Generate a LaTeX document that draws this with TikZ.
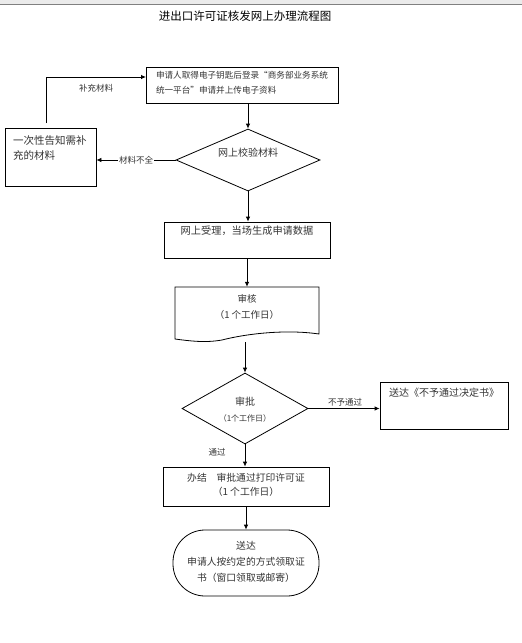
\documentclass[tikz,border=0pt]{standalone}
\usepackage{fontspec}
\setmainfont{Noto Sans CJK SC}
\usetikzlibrary{shapes.geometric,arrows.meta}
\tikzset{
  boxshape/.style={draw=black, line width=0.8pt, inner sep=0pt},
  dia/.style={draw=black, line width=0.8pt, diamond, inner sep=0pt},
  conn/.style={draw=black, line width=0.8pt, -{Latex[length=5pt,width=4.5pt]}},
  plain/.style={draw=black, line width=0.8pt},
  txt/.style={inner sep=0pt, font=\fontsize{9}{11}\selectfont, text=black!80},
  lbl/.style={inner sep=1pt, font=\fontsize{8.5}{10}\selectfont, text=black!80, fill=white},
}
\begin{document}
\begin{tikzpicture}[x=1pt,y=-1pt]
\useasboundingbox (0,0) rectangle (522,643);
\fill[black!8] (0,0) rectangle (522,4);
\draw[black!50, line width=1pt] (0,4.5) -- (522,4.5);

\node[inner sep=0pt, font=\fontsize{11.5}{13}\selectfont] (title) at (245,16) {进出口许可证核发网上办理流程图};

% boxes
\node[boxshape, minimum width=192pt, minimum height=36pt] (box1) at (242,85) {};
\node[txt, align=left, font=\fontsize{8.6}{15}\selectfont] (t1) at (242,83) {申请人取得电子钥匙后登录“商务部业务系统\\统一平台”申请并上传电子资料};

\node[boxshape, minimum width=91pt, minimum height=58pt] (lbox) at (50.5,157) {};
\node[txt, anchor=north west, align=left, font=\fontsize{10.5}{15}\selectfont] (tl) at (13,135) {一次性告知需补\\充的材料};

\node[dia, minimum width=144pt, minimum height=62pt] (d1) at (248,160) {};
\node[txt, font=\fontsize{10}{12}\selectfont] (td1) at (248,153) {网上校验材料};

\node[boxshape, minimum width=166pt, minimum height=36pt] (box2) at (247,240) {};
\node[txt, font=\fontsize{10.2}{12}\selectfont] (t2) at (247,231) {网上受理，当场生成申请数据};

% document shape
\node[inner sep=0pt, minimum width=144pt, minimum height=55pt] (doc) at (247,314.5) {};
\draw[plain] (175,287) -- (319,287) -- (319,334)
  .. controls (285,329) and (245,334) .. (222,340)
  .. controls (205,343) and (190,341) .. (175,339) -- cycle;
\node[txt, align=center, font=\fontsize{9.5}{16}\selectfont] (td) at (247,307) {审核\\（1 个工作日）};

\node[dia, minimum width=126pt, minimum height=71pt] (d2) at (245,408.5) {};
\node[txt, font=\fontsize{10}{12}\selectfont] (td2a) at (245,402) {审批};
\node[txt, font=\fontsize{8}{10}\selectfont] (td2b) at (245,418) {（1个工作日）};

\node[boxshape, minimum width=128pt, minimum height=47pt] (box3) at (444,405.5) {};
\node[txt, font=\fontsize{10}{12}\selectfont] (t3) at (444,393) {送达《不予通过决定书》};

\node[boxshape, minimum width=166pt, minimum height=39pt] (box4) at (246,486.5) {};
\node[txt, align=center, font=\fontsize{9.8}{14.5}\selectfont] (t4) at (246,485) {办结\quad 审批通过打印许可证\\（1 个工作日）};

\node[boxshape, rounded corners=32pt, minimum width=146pt, minimum height=66pt] (term) at (246,563) {};
\node[txt, align=center, font=\fontsize{9.8}{16}\selectfont] (tt) at (246,562) {送达\\申请人按约定的方式领取证\\书（窗口领取或邮寄）};

% connectors
\coordinate (c1) at (46,123);
\coordinate (c2) at (146,77);
\draw[conn] (c1) |- (c2);
\node[lbl] (l1) at (96,88) {补充材料};

\draw[conn] (d1.north |- box1.south) -- (d1.north);
\draw[conn] (d1.west) -- (d1.west -| lbox.east) node[lbl, midway] (l2) {材料不全};
\draw[conn] (d1.south) -- (d1.south |- box2.north);
\draw[conn] (box2.south) -- (box2.south |- doc.north);
\draw[conn] (d2.north |- doc.south) -- (d2.north);
\draw[conn] (d2.east) -- (d2.east -| box3.west);
\node[lbl, fill=none] (l3) at (345,402) {不予通过};
\draw[conn] (d2.south) -- (d2.south |- box4.north);
\node[lbl, fill=none] (l4) at (217,452) {通过};
\draw[conn] (box4.south) -- (term.north);
\end{tikzpicture}
\end{document}
